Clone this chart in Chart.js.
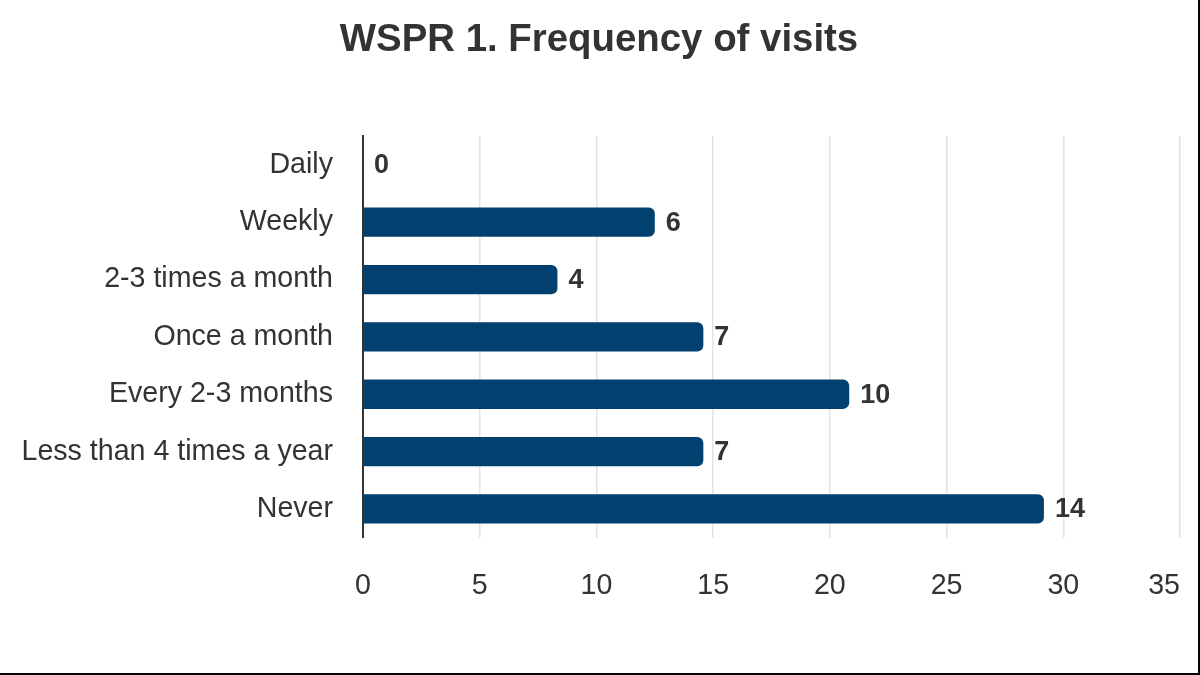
<!DOCTYPE html>
<html>
<head>
<meta charset="utf-8">
<script src="https://cdn.jsdelivr.net/npm/chart.js@4"></script>
<style>
	html, body { margin: 0; padding: 0; background: #ffffff; }
	#wrap { width: 1198px; height: 673px; border-right: 2px solid #000; border-bottom: 2px solid #000; }
</style>
</head>
<body>
<div id="wrap"><canvas id="WSPR_Plot" width="1198" height="673"></canvas></div>
<script>

const categories = ["Daily", "Weekly", "2-3 times a month", "Once a month", "Every 2-3 months", "Less than 4 times a year", "Never"];
const counts = [0, 6, 4, 7, 10, 7, 14];			// numbers printed next to the bars
const percent = [0, 12.5, 8.33, 14.58, 20.83, 14.58, 29.17];	// bar lengths
const x_ticks = [0, 5, 10, 15, 20, 25, 30, 35];

Chart.defaults.font.family = "'Liberation Sans', Arial, sans-serif";
Chart.defaults.color = "#333333";

// Draw the count next to the end of each bar
const bar_labels = {
	id: "bar_labels",
	afterDatasetsDraw(chart) {
		const ctx = chart.ctx;
		const meta = chart.getDatasetMeta(0);
		ctx.save();
		ctx.font = "bold 27px 'Liberation Sans', Arial, sans-serif";
		ctx.fillStyle = "#333333";
		ctx.textAlign = "left";
		ctx.textBaseline = "middle";
		meta.data.forEach(function(bar, i) {
			ctx.fillText(String(counts[i]), bar.x + 11, bar.y + 1);
		});
		ctx.restore();
	}
};

var WSPR_Plot_Obj = new Chart(document.getElementById("WSPR_Plot").getContext("2d"), {
	type: "bar",
	data: {
		labels: categories,
		datasets: [
			{
				data: percent,
				backgroundColor: "#02406f",
				borderRadius: 6,
				borderSkipped: "start",
				barPercentage: 0.51,
				categoryPercentage: 1.0,
			}
		]
	},
	options: {
		indexAxis: "y",
		responsive: false,
		animation: false,
		events: [], // no hover
		layout: {
			padding: { left: 0, right: 0, top: 0, bottom: 39 }
		},
		plugins: {
			legend: { display: false },
			tooltip: { enabled: false },
			title: {
				display: true,
				text: "WSPR 1. Frequency of visits",
				color: "#333333",
				font: { size: 38.4, weight: "bold" },
				padding: { top: 17, bottom: 73 }
			}
		},
		scales: {
			x: {
				min: 0,
				max: 35,
				afterBuildTicks: function(scale) {
					scale.ticks = x_ticks.map(v => ({ value: v }));
				},
				afterFit: function(scale) { scale.paddingRight = 18; },
				grid: {
					color: "#e3e3e3",
					lineWidth: 1.5,
					drawTicks: false,
				},
				border: { display: false },
				ticks: {
					font: { size: 28.6 },
					padding: 31,
					color: "#333333",
					// last label sits a bit inside the edge, like the original
					callback: function(value) {
						return value === 35 ? "35    " : String(value);
					}
				}
			},
			y: {
				afterFit: function(scale) { scale.width = 363; },
				grid: { display: false, drawTicks: false },
				border: { display: true, color: "#333333", width: 2 },
				ticks: {
					font: { size: 28.6 },
					padding: 30,
					color: "#333333",
				}
			}
		}
	},
	plugins: [bar_labels]
});

</script>
</body>
</html>
